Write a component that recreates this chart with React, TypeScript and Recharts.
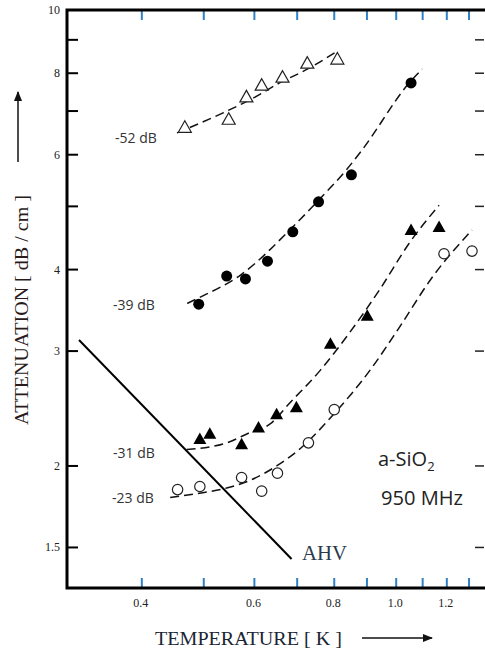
import { ComposedChart, Line, Scatter, XAxis, YAxis } from "recharts";

// temperature axis (K) and attenuation axis (dB/cm), both logarithmic
const tempTicks = [0.4, 0.5, 0.6, 0.7, 0.8, 0.9, 1.0, 1.1, 1.2, 1.3];
const tempLabels = [0.4, 0.6, 0.8, 1.0, 1.2];
const attTicks = [1.5, 2, 3, 4, 5, 6, 7, 8, 9, 10];
const attLabels = [1.5, 2, 3, 4, 6, 8, 10];

// measured points
const temp52 = [0.467, 0.547, 0.583, 0.616, 0.664, 0.726, 0.809];
const att52 = [6.61, 6.8, 7.36, 7.67, 7.89, 8.29, 8.41];
const temp39 = [0.491, 0.543, 0.581, 0.629, 0.689, 0.756, 0.851, 1.055];
const att39 = [3.54, 3.91, 3.87, 4.12, 4.57, 5.08, 5.59, 7.73];
const temp31 = [0.493, 0.511, 0.573, 0.609, 0.65, 0.698, 0.789, 0.901, 1.055, 1.167];
const att31 = [2.2, 2.24, 2.16, 2.29, 2.4, 2.46, 3.08, 3.4, 4.6, 4.65];
const temp23 = [0.455, 0.493, 0.573, 0.616, 0.652, 0.729, 0.8, 1.188, 1.314];
const att23 = [1.84, 1.86, 1.92, 1.83, 1.95, 2.17, 2.44, 4.23, 4.27];

// dashed guide curves
const fitTemp52 = [0.454, 0.535, 0.59, 0.657, 0.732, 0.809];
const fitAtt52 = [6.48, 6.95, 7.28, 7.73, 8.15, 8.65];
const fitTemp39 = [0.471, 0.491, 0.57, 0.689, 0.756, 0.836, 0.882, 1.048, 1.098];
const fitAtt39 = [3.55, 3.62, 3.92, 4.65, 5.11, 5.69, 6.08, 7.73, 8.12];
const fitTemp31 = [0.47, 0.543, 0.59, 0.635, 0.682, 0.76, 0.845, 0.941, 1.048, 1.167];
const fitAtt31 = [2.12, 2.17, 2.25, 2.32, 2.5, 2.8, 3.2, 3.72, 4.39, 5.02];
const fitTemp23 = [0.443, 0.498, 0.543, 0.59, 0.65, 0.713, 0.795, 0.914, 1.011, 1.138, 1.314];
const fitAtt23 = [1.79, 1.82, 1.85, 1.9, 2.0, 2.14, 2.39, 2.82, 3.26, 3.89, 4.6];

// AHV prediction
const ahvTemp = [0.319, 0.686];
const ahvAtt = [3.12, 1.44];

const pts = (t: number[], a: number[]) => t.map((x, i) => ({ x, y: a[i] }));

const serif = "'Liberation Serif', 'Times New Roman', serif";
const sans = "'Open Sans', 'Noto Sans', sans-serif";
const tickBlue = "#2f80c4";

const BottomTick = ({ x, y, payload }: any) => (
  <g>
    <line x1={x} x2={x} y1={y - 1} y2={y - 10} stroke={tickBlue} strokeWidth={2} />
    {tempLabels.includes(payload.value) && (
      <text x={x - 1} y={y + 19} textAnchor="middle" fontFamily={serif} fontSize={12} fill="#222">
        {payload.value.toFixed(1)}
      </text>
    )}
  </g>
);

const TopTick = ({ x, y }: any) => (
  <line x1={x} x2={x} y1={y + 1} y2={y + 10} stroke={tickBlue} strokeWidth={2} />
);

const LeftTick = ({ x, y, payload }: any) => (
  <g>
    <line x1={x} x2={x + 11} y1={y} y2={y} stroke="#000" strokeWidth={2} />
    {attLabels.includes(payload.value) && (
      <text x={x - 7} y={y + 4} textAnchor="end" fontFamily={serif} fontSize={12} fill="#222">
        {payload.value}
      </text>
    )}
  </g>
);

const RightTick = ({ x, y }: any) => (
  <line x1={x} x2={x - 9} y1={y} y2={y} stroke="#222" strokeWidth={1.5} />
);

const OpenTriangle = ({ cx, cy }: any) => (
  <polygon
    points={`${cx},${cy - 6.5} ${cx - 6.5},${cy + 5} ${cx + 6.5},${cy + 5}`}
    fill="#fff"
    stroke="#222"
    strokeWidth={1.2}
  />
);
const FilledTriangle = ({ cx, cy }: any) => (
  <polygon points={`${cx},${cy - 6.5} ${cx - 6.5},${cy + 5} ${cx + 6.5},${cy + 5}`} fill="#000" />
);
const FilledCircle = ({ cx, cy }: any) => <circle cx={cx} cy={cy} r={5.5} fill="#000" />;
const OpenCircle = ({ cx, cy }: any) => (
  <circle cx={cx} cy={cy} r={5.2} fill="#fff" stroke="#222" strokeWidth={1.2} />
);

const dash = "9 5";

export default function App() {
  return (
    <div style={{ position: "relative", width: 485, height: 650, background: "#fff" }}>
      <style>{"body{margin:0}"}</style>
      <ComposedChart width={485} height={650} margin={{ top: 9, right: 0, bottom: 0, left: 0 }}>
        <XAxis
          xAxisId="b"
          dataKey="x"
          type="number"
          scale="log"
          domain={[0.3055, 1.372]}
          allowDataOverflow
          ticks={tempTicks}
          interval={0}
          height={62}
          tickSize={0}
          tickMargin={0}
          tickLine={false}
          tick={<BottomTick />}
          axisLine={false}
        />
        <XAxis
          xAxisId="t"
          orientation="top"
          dataKey="x"
          type="number"
          scale="log"
          domain={[0.3055, 1.372]}
          allowDataOverflow
          ticks={tempTicks}
          interval={0}
          height={1}
          tickSize={0}
          tickMargin={0}
          tickLine={false}
          tick={<TopTick />}
          axisLine={false}
        />
        <YAxis
          yAxisId="l"
          type="number"
          scale="log"
          domain={[1.3, 10]}
          allowDataOverflow
          ticks={attTicks}
          interval={0}
          width={67}
          tickSize={0}
          tickMargin={0}
          tickLine={false}
          tick={<LeftTick />}
          axisLine={false}
        />
        <YAxis
          yAxisId="r"
          orientation="right"
          type="number"
          scale="log"
          domain={[1.3, 10]}
          allowDataOverflow
          ticks={attTicks}
          interval={0}
          width={1}
          tickSize={0}
          tickMargin={0}
          tickLine={false}
          tick={<RightTick />}
          axisLine={false}
        />

        <Line xAxisId="b" yAxisId="l" data={pts(ahvTemp, ahvAtt)} dataKey="y" type="linear" stroke="#000" strokeWidth={2} dot={false} isAnimationActive={false} />
        <Line xAxisId="b" yAxisId="l" data={pts(fitTemp52, fitAtt52)} dataKey="y" type="monotone" stroke="#111" strokeWidth={1.5} strokeDasharray={dash} dot={false} isAnimationActive={false} />
        <Line xAxisId="b" yAxisId="l" data={pts(fitTemp39, fitAtt39)} dataKey="y" type="monotone" stroke="#111" strokeWidth={1.5} strokeDasharray={dash} dot={false} isAnimationActive={false} />
        <Line xAxisId="b" yAxisId="l" data={pts(fitTemp31, fitAtt31)} dataKey="y" type="monotone" stroke="#111" strokeWidth={1.5} strokeDasharray={dash} dot={false} isAnimationActive={false} />
        <Line xAxisId="b" yAxisId="l" data={pts(fitTemp23, fitAtt23)} dataKey="y" type="monotone" stroke="#111" strokeWidth={1.5} strokeDasharray={dash} dot={false} isAnimationActive={false} />

        <Scatter xAxisId="b" yAxisId="l" data={pts(temp52, att52)} dataKey="y" shape={<OpenTriangle />} isAnimationActive={false} />
        <Scatter xAxisId="b" yAxisId="l" data={pts(temp39, att39)} dataKey="y" shape={<FilledCircle />} isAnimationActive={false} />
        <Scatter xAxisId="b" yAxisId="l" data={pts(temp31, att31)} dataKey="y" shape={<FilledTriangle />} isAnimationActive={false} />
        <Scatter xAxisId="b" yAxisId="l" data={pts(temp23, att23)} dataKey="y" shape={<OpenCircle />} isAnimationActive={false} />
      </ComposedChart>

      <svg width={485} height={650} style={{ position: "absolute", left: 0, top: 0, pointerEvents: "none" }}>
        <defs>
          <marker id="arrowHead" viewBox="0 0 10 10" refX="9" refY="5" markerWidth="7" markerHeight="7" orient="auto">
            <path d="M0,1 L10,5 L0,9 z" fill="#111" />
          </marker>
        </defs>
        {/* plot frame: top, left and bottom edges */}
        <path d="M485,10 H67 V588 H485" fill="none" stroke="#000" strokeWidth={3} />
        <g fontFamily={sans} fontSize={14} fill="#333">
          <text x={115} y={143}>-52 dB</text>
          <text x={113} y={310}>-39 dB</text>
          <text x={113} y={458}>-31 dB</text>
          <text x={112} y={503}>-23 dB</text>
        </g>
        <text x={378} y={466} fontFamily={sans} fontSize={20} fill="#222">
          a-SiO<tspan fontSize={13} dy={5}>2</tspan>
        </text>
        <text x={381} y={505} fontFamily={sans} fontSize={20} fill="#222" textLength={82} lengthAdjust="spacingAndGlyphs">
          950 MHz
        </text>
        <text x={302} y={560} fontFamily={serif} fontSize={20} fill="#2b3a4a" textLength={45} lengthAdjust="spacingAndGlyphs">
          AHV
        </text>
        <text x={155} y={645} fontFamily={serif} fontSize={19.5} fill="#1a2533" textLength={187} lengthAdjust="spacingAndGlyphs">
          TEMPERATURE  [ K ]
        </text>
        <line x1={362} x2={432} y1={638} y2={638} stroke="#111" strokeWidth={1.5} markerEnd="url(#arrowHead)" />
        <text
          x={28}
          y={310}
          transform="rotate(-90 28 310)"
          textAnchor="middle"
          fontFamily={serif}
          fontSize={19.5}
          fill="#2a1a1a"
          textLength={230}
          lengthAdjust="spacingAndGlyphs"
        >
          ATTENUATION  [ dB / cm ]
        </text>
        <line x1={18} x2={18} y1={162} y2={92} stroke="#111" strokeWidth={1.5} markerEnd="url(#arrowHead)" />
      </svg>
    </div>
  );
}
